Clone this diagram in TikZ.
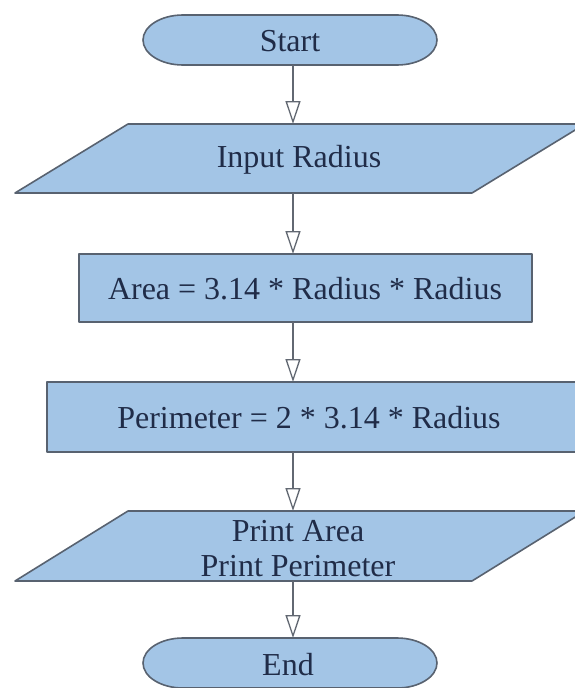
\documentclass[tikz,border=0pt]{standalone}
\usepackage{fontspec}
\setmainfont{Liberation Serif}
\newfontfamily\tnr{Liberation Serif}[Extension=.ttf, UprightFont=LiberationSerif-Regular]
\usetikzlibrary{arrows.meta}
\definecolor{fillc}{RGB}{163,197,230}
\definecolor{bordc}{RGB}{88,98,112}
\definecolor{textc}{RGB}{32,44,72}
\definecolor{arrc}{RGB}{98,104,114}
\tikzset{
  box/.style={draw=bordc, fill=fillc, line width=1.6pt, line join=round},
  lbl/.style={text=textc, font=\tnr\fontsize{32}{35}\selectfont, align=center, inner sep=0pt},
  arr/.style={draw=arrc, line width=1.3pt, -{Triangle[open, length=23pt, width=15pt, line width=1.3pt]}}
}
\begin{document}
\begin{tikzpicture}[x=1pt,y=-1pt]
\useasboundingbox (0,0) rectangle (574,688);
\fill[white] (0,0) rectangle (574,688);
% shapes
\draw[box] (183,15) -- (397,15) arc[start angle=90,end angle=-90,x radius=40pt,y radius=25pt] -- (183,65) arc[start angle=270,end angle=90,x radius=40pt,y radius=25pt] -- cycle;
\draw[box] (128,124) -- (585,124) -- (472,193) -- (15,193) -- cycle;
\draw[box] (79,254) rectangle (532,322);
\draw[box] (47,382) rectangle (585,452);
\draw[box] (128,511) -- (585,511) -- (472,581) -- (15,581) -- cycle;
\draw[box] (183,638) -- (397,638) arc[start angle=90,end angle=-90,x radius=40pt,y radius=25pt] -- (183,688) arc[start angle=270,end angle=90,x radius=40pt,y radius=25pt] -- cycle;
% connector end points on shape edges
\coordinate (startB) at (293,65);
\coordinate (inputT) at (293,124);
\coordinate (inputB) at (293,193);
\coordinate (areaT) at (293,254);
\coordinate (areaB) at (293,322);
\coordinate (perimT) at (293,382);
\coordinate (perimB) at (293,452);
\coordinate (printT) at (293,511);
\coordinate (printB) at (293,581);
\coordinate (endT) at (293,638);
% labels
\node[lbl] (start) at (290,41) {Start};
\node[lbl] (input) at (299,160) {Input Radius};
\node[lbl] (area) at (305,289) {Area = 3.14 * Radius * Radius};
\node[lbl] (perim) at (309,418) {Perimeter = 2 * 3.14 * Radius};
\node[lbl] (print) at (298,549) {Print Area\\Print Perimeter};
\node[lbl] (end) at (288,665) {End};
% connectors
\draw[arr] (startB) -- (inputT);
\draw[arr] (inputB) -- (areaT);
\draw[arr] (areaB) -- (perimT);
\draw[arr] (perimB) -- (printT);
\draw[arr] (printB) -- (endT);
\end{tikzpicture}
\end{document}
